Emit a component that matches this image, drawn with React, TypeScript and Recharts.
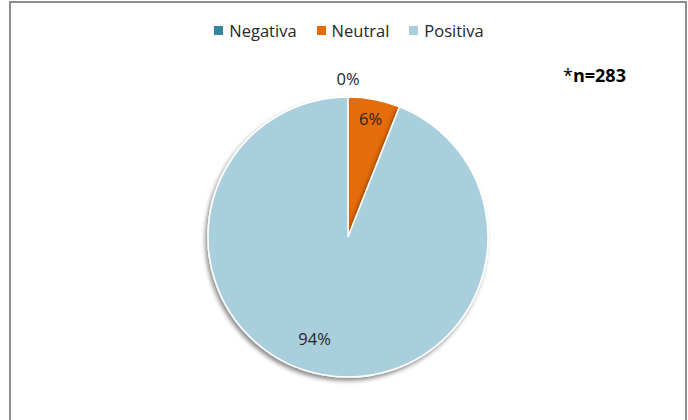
import { PieChart, Pie, Cell } from "recharts";

const categories = ["Negativa", "Neutral", "Positiva"];
const values = [0, 6, 94];
const colors = ["#31859C", "#E46C0A", "#A9CFDD"];

const data = categories.map((name, i) => ({ name, value: values[i] }));

const RAD = Math.PI / 180;
const FONT = "'Open Sans', 'Noto Sans', sans-serif";

function renderLabel(props: any) {
  const { cx, cy, midAngle, outerRadius, index, value } = props;
  let r = outerRadius * 0.74;
  if (value === 0) r = outerRadius + 19;
  else if (index === 1) r = outerRadius * 0.86;
  const x = cx + r * Math.cos(-midAngle * RAD) + (index === 2 ? -14 : 0);
  const y = cy + r * Math.sin(-midAngle * RAD);
  return (
    <text
      x={x}
      y={y}
      textAnchor="middle"
      dominantBaseline="central"
      fill="#262626"
      fontSize={16.5}
      fontFamily={FONT}
    >
      {`${value}%`}
    </text>
  );
}

export default function App() {
  return (
    <div
      style={{
        position: "absolute",
        left: 0,
        top: 0,
        width: 688,
        height: 420,
        overflow: "hidden",
        background: "#fff",
      }}
    >
      <svg width={0} height={0} style={{ position: "absolute" }}>
        <defs>
          <filter id="pieShadow" x="-20%" y="-20%" width="140%" height="140%">
            <feDropShadow dx={-2} dy={3} stdDeviation={2} floodColor="#000" floodOpacity={0.45} />
          </filter>
        </defs>
      </svg>
      <div
        style={{
          position: "absolute",
          left: 9,
          top: 1,
          width: 674,
          height: 460,
          border: "2px solid #8e8e8e",
        }}
      />
      <div
        style={{
          position: "absolute",
          left: 0,
          top: 19,
          width: 688,
          display: "flex",
          justifyContent: "center",
          gap: 20,
          fontFamily: FONT,
          fontSize: 16.5,
          color: "#262626",
          paddingLeft: 10,
          boxSizing: "border-box",
        }}
      >
        {categories.map((c, i) => (
          <span key={c} style={{ display: "flex", alignItems: "center" }}>
            <span
              style={{
                width: 9,
                height: 9,
                background: colors[i],
                marginRight: 6,
                display: "inline-block",
              }}
            />
            {c}
          </span>
        ))}
      </div>
      <PieChart
        width={688}
        height={420}
        margin={{ top: 0, right: 0, bottom: 0, left: 0 }}
        style={{ position: "absolute", left: 0, top: 0 }}
      >
        <Pie
          data={data}
          dataKey="value"
          nameKey="name"
          cx={348}
          cy={237}
          outerRadius={140}
          startAngle={90}
          endAngle={-270}
          stroke="#fff"
          strokeWidth={1.5}
          label={renderLabel}
          labelLine={false}
          isAnimationActive={false}
        >
          {data.map((d, i) => (
            <Cell
              key={d.name}
              fill={colors[i]}
              filter={i === 2 ? "url(#pieShadow)" : undefined}
            />
          ))}
        </Pie>
      </PieChart>
      <div
        style={{
          position: "absolute",
          left: 563,
          top: 63,
          fontFamily: FONT,
          fontSize: 18,
          color: "#000",
        }}
      >
        *<b>n=283</b>
      </div>
    </div>
  );
}
